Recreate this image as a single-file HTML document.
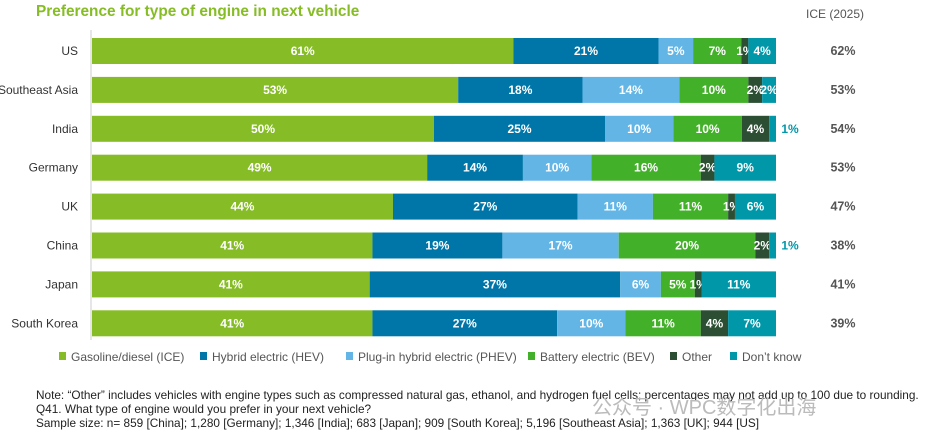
<!DOCTYPE html>
<html><head><meta charset="utf-8"><style>
body{margin:0;background:#fff;width:936px;height:441px;overflow:hidden;font-family:"Liberation Sans",sans-serif;}
svg text{font-family:"Liberation Sans","Noto Sans CJK SC",sans-serif;}
</style></head><body>
<svg id="c" width="936" height="441">
<text x="36" y="16" font-size="15.4" font-weight="bold" fill="#86bc25">Preference for type of engine in next vehicle</text>
<text x="806" y="18" font-size="12" fill="#555">ICE (2025)</text>
<line x1="91" y1="30" x2="91" y2="340" stroke="#ccc"/>
<g id="bars"></g>
<g id="legend"></g>
<text x="36" y="399" font-size="11.8" fill="#222">Note: “Other” includes vehicles with engine types such as compressed natural gas, ethanol, and hydrogen fuel cells; percentages may not add up to 100 due to rounding.</text>
<text x="36" y="413" font-size="11.8" fill="#222">Q41. What type of engine would you prefer in your next vehicle?</text>
<text x="36" y="427" font-size="11.8" fill="#222">Sample size: n= 859 [China]; 1,280 [Germany]; 1,346 [India]; 683 [Japan]; 909 [South Korea]; 5,196 [Southeast Asia]; 1,363 [UK]; 944 [US]</text>
<text x="592" y="414" font-size="20" fill="#bbb">公众号 · WPC数字化出海</text>
</svg>
<script>
const categories=["US","Southeast Asia","India","Germany","UK","China","Japan","South Korea"];
const seriesNames=["Gasoline/diesel (ICE)","Hybrid electric (HEV)","Plug-in hybrid electric (PHEV)","Battery electric (BEV)","Other","Don’t know"];
const ice=[61,53,50,49,44,41,41,41];
const hev=[21,18,25,14,27,19,37,27];
const phev=[5,14,10,10,11,17,6,10];
const bev=[7,10,10,16,11,20,5,11];
const other=[1,2,4,2,1,2,1,4];
const dontKnow=[4,2,1,9,6,1,11,7];
const ice2025=[62,53,54,53,47,38,41,39];
const colors=["#86bc25","#0076a8","#62b5e5","#43b02a","#2c4f33","#0097a9"];
const NS="http://www.w3.org/2000/svg";
const x0=92,x1=776,yTop=38,pitch=38.9,bh=26;
const series=[ice,hev,phev,bev,other,dontKnow];
const g=document.getElementById('bars');
function mk(t,a){const e=document.createElementNS(NS,t);for(const k in a)e.setAttribute(k,a[k]);return e;}
categories.forEach((cat,i)=>{
  const y=yTop+i*pitch;
  const total=series.reduce((s,a)=>s+a[i],0);
  const sc=(x1-x0)/total;
  const lab=mk('text',{x:78,y:y+bh/2+4,'font-size':12,fill:'#333','text-anchor':'end'});
  
  
  lab.textContent=cat;g.appendChild(lab);
  let x=x0;
  series.forEach((arr,s)=>{
    const w=arr[i]*sc;
    const r=mk('rect',{x:x,y:y,width:w,height:bh,fill:colors[s]});
    
    
    g.appendChild(r);
    const t=mk('text',{'font-size':12,'font-weight':'bold','text-anchor':'middle',y:y+bh/2+4});
    
    
    t.textContent=arr[i]+'%';
    if(w<12 && s==5){t.setAttribute('x',x1+14);t.setAttribute('fill','#0097a9');}
    else{t.setAttribute('x',x+w/2);t.setAttribute('fill','#fff');}
    g.appendChild(t);
    x+=w;
  });
  const v=mk('text',{x:843,y:y+bh/2+4,'font-size':12.5,'font-weight':'bold',fill:'#555','text-anchor':'middle'});
  
  
  v.textContent=ice2025[i]+'%';g.appendChild(v);
});
const lg=document.getElementById('legend');
const lx=[59,200,346,528,670,730];
seriesNames.forEach((n,s)=>{
  const r=mk('rect',{x:lx[s],y:352,width:7,height:8,fill:colors[s]});
  
  
  lg.appendChild(r);
  const t=mk('text',{x:lx[s]+12,y:361,'font-size':12,fill:'#555'});
  
  
  t.textContent=n;lg.appendChild(t);
});
</script>
</body></html>
